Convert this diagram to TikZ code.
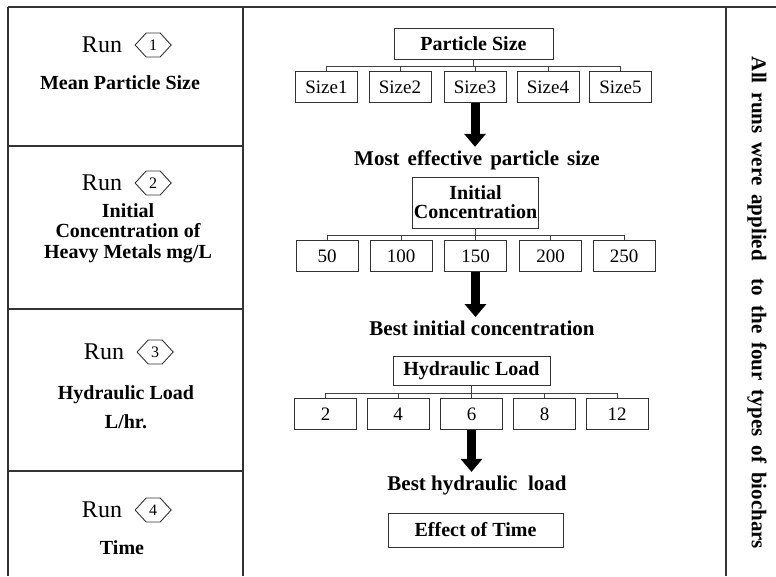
\documentclass[tikz,border=0pt]{standalone}
\usepackage{fontspec}
\setmainfont{Liberation Serif}
\usetikzlibrary{shapes,shapes.symbols,arrows.meta,positioning}
\tikzstyle{frame} = [line width=1.2pt, draw=black!80]
\tikzstyle{head} = [rectangle, draw=black!80, line width=0.9pt, text centered, font=\fontsize{20}{19}\selectfont\bfseries]
\tikzstyle{level} = [rectangle, draw=black!80, line width=0.9pt, minimum width=62pt, minimum height=31pt, inner sep=0pt, font=\fontsize{19}{21}\selectfont]
\tikzstyle{result} = [font=\fontsize{21}{23}\selectfont\bfseries]
\tikzstyle{run} = [font=\fontsize{24}{26}\selectfont]
\tikzstyle{runno} = [signal, signal to=west and east, signal pointer angle=95, draw=black!80, line width=0.9pt, minimum width=36pt, minimum height=24pt, inner sep=0pt, font=\fontsize{16}{16}\selectfont]
\tikzstyle{factor} = [align=center, font=\fontsize{20}{20.5}\selectfont\bfseries]
\tikzstyle{branch} = [draw=black!75, line width=0.8pt]
\tikzstyle{bigarrow} = [line width=9pt, -{Triangle[length=13pt,width=21pt]}]

\begin{document}
\begin{tikzpicture}[x=1pt, y=-1pt, node distance=43.5pt]
	\useasboundingbox (0,0) rectangle (776,576);
	% table frame
	\draw[frame, line width=2pt] (8,7) -- (776,7);
	\draw[frame] (8,7) -- (8,576);
	\draw[frame] (243,7) -- (243,576);
	\draw[frame] (726,7) -- (726,576);
	\draw[frame] (8,146) -- (243,146);
	\draw[frame] (8,309) -- (243,309);
	\draw[frame] (8,471) -- (243,471);
	% runs
	\node (run1) [run] at (102,45) {Run};
	\node (no1) [runno, right=9pt of run1] {1};
	\node (mps) [factor] at (120,83) {Mean Particle Size};
	\node (run2) [run] at (102,183) {Run};
	\node (no2) [runno, right=9pt of run2] {2};
	\node (ihm) [factor] at (128,233) {Initial\\Concentration of\\Heavy Metals mg/L};
	\node (run3) [run] at (104,352) {Run};
	\node (no3) [runno, right=9pt of run3] {3};
	\node (hlr) [factor] at (126,407) {Hydraulic Load\\[9pt]L/hr.};
	\node (run4) [run] at (102,510) {Run};
	\node (no4) [runno, right=9pt of run4] {4};
	\node (tim) [factor] at (122,548) {Time};
	% particle size
	\node (ps) [head, minimum width=159pt, minimum height=31pt] at (473.5,43.5) {Particle Size};
	\node (s1) [level, below of=ps, xshift=-147pt] {Size1};
	\node (s2) [level, below of=ps, xshift=-73.5pt] {Size2};
	\node (s3) [level, below of=ps, xshift=1.5pt] {Size3};
	\node (s4) [level, below of=ps, xshift=74.5pt] {Size4};
	\node (s5) [level, below of=ps, xshift=147pt] {Size5};
	\draw[branch] (ps.south) -- ++(0,6.5) -| (s1.north);
	\draw[branch] (ps.south) -- ++(0,6.5) -| (s2.north);
	\draw[branch] (ps.south) -- ++(0,6.5) -| (s3.north);
	\draw[branch] (ps.south) -- ++(0,6.5) -| (s4.north);
	\draw[branch] (ps.south) -- ++(0,6.5) -| (s5.north);
	\node (mostsize) [result] at (477,160) {\spaceskip=8pt Most effective particle size};
	\draw[bigarrow] (s3.south) -- (s3.south |- mostsize.north);
	% initial concentration
	\node (ic) [head, minimum width=125pt, minimum height=51pt, inner sep=1pt, align=center] at (475.5,202.5) {Initial\\Concentration};
	\node (c1) [level, below of=ic, node distance=53.5pt, xshift=-148.5pt] {50};
	\node (c2) [level, below of=ic, node distance=53.5pt, xshift=-74.5pt] {100};
	\node (c3) [level, below of=ic, node distance=53.5pt] {150};
	\node (c4) [level, below of=ic, node distance=53.5pt, xshift=75pt] {200};
	\node (c5) [level, below of=ic, node distance=53.5pt, xshift=148.5pt] {250};
	\draw[branch] (ic.south) -- ++(0,7) -| (c1.north);
	\draw[branch] (ic.south) -- ++(0,7) -| (c2.north);
	\draw[branch] (ic.south) -- ++(0,7) -| (c3.north);
	\draw[branch] (ic.south) -- ++(0,7) -| (c4.north);
	\draw[branch] (ic.south) -- ++(0,7) -| (c5.north);
	\node (bestconc) [result] at (482,328) {Best initial concentration};
	\draw[bigarrow] (c3.south) -- (c3.south |- bestconc.north);
	% hydraulic load
	\node (hl) [head, minimum width=157pt, minimum height=29pt] at (471.5,370.5) {Hydraulic Load};
	\node (h1) [level, below of=hl, xshift=-146pt] {2};
	\node (h2) [level, below of=hl, xshift=-73.5pt] {4};
	\node (h3) [level, below of=hl] {6};
	\node (h4) [level, below of=hl, xshift=73pt] {8};
	\node (h5) [level, below of=hl, xshift=145.5pt] {12};
	\draw[branch] (hl.south) -- ++(0,8) -| (h1.north);
	\draw[branch] (hl.south) -- ++(0,8) -| (h2.north);
	\draw[branch] (hl.south) -- ++(0,8) -| (h3.north);
	\draw[branch] (hl.south) -- ++(0,8) -| (h4.north);
	\draw[branch] (hl.south) -- ++(0,8) -| (h5.north);
	\node (besthl) [result] at (477,485) {Best hydraulic\ \ load};
	\draw[bigarrow] (h3.south) -- (h3.south |- besthl.north);
	\node (et) [head, minimum width=175pt, minimum height=34pt] at (475.5,530) {Effect of Time};
	% note on the right
	\node (note) [result, rotate=-90] at (757,303) {\spaceskip=9pt All runs were applied\ \ to the four types of biochars};
\end{tikzpicture}
\end{document}
